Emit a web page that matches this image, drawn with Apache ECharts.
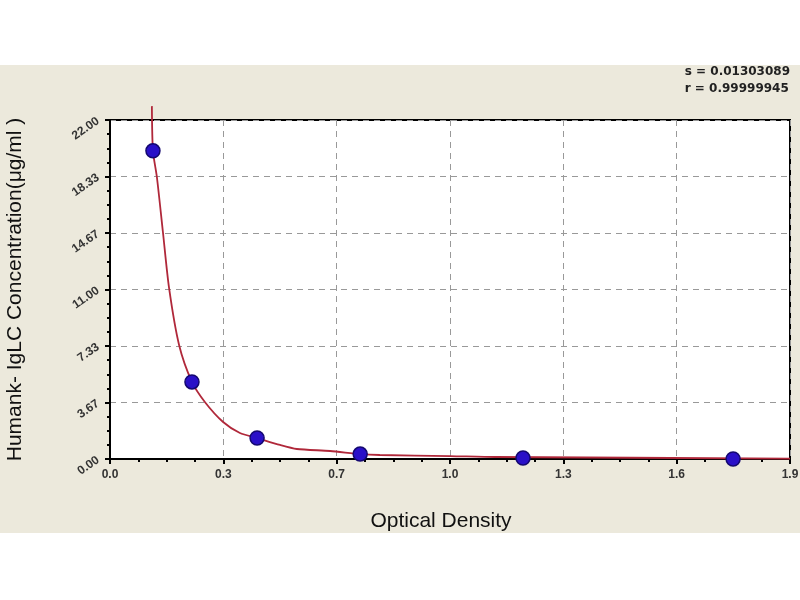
<!DOCTYPE html>
<html>
<head>
<meta charset="utf-8">
<title>echarts</title>
<script src="https://cdn.jsdelivr.net/npm/echarts@6/dist/echarts.min.js"></script>
<style>
  html, body { margin: 0; padding: 0; width: 100%; height: 100%; overflow: hidden; background: #fff; }
  #main { width: 800px; height: 600px; }
</style>
</head>
<body>
<div id="main"></div>
<script>
// standard points (optical density vs concentration)
var odValues = [0.120, 0.229, 0.411, 0.699, 1.154, 1.741];
var concValues = [20.0, 5.0, 1.36, 0.32, 0.06, 0.0];

// fitted curve
var curveOd = [0.117, 0.120, 0.131, 0.148, 0.165, 0.193, 0.229, 0.265, 0.316, 0.363, 0.411, 0.475, 0.522, 0.615, 0.699, 0.754, 0.950, 1.076, 1.9];
var curveConc = [22.9, 20.0, 18.3, 14.7, 11.1, 7.4, 5.0, 3.7, 2.4, 1.69, 1.36, 0.91, 0.65, 0.52, 0.32, 0.26, 0.19, 0.13, 0.03];

var xTickLabels = ['0.0', '0.3', '0.7', '1.0', '1.3', '1.6', '1.9'];
var yTickLabels = ['0.00', '3.67', '7.33', '11.00', '14.67', '18.33', '22.00'];

var statLines = ['s = 0.01303089', 'r = 0.99999945'];

var points = odValues.map(function (v, i) { return [v, concValues[i]]; });
var curve = curveOd.map(function (v, i) { return [v, curveConc[i]]; });

var myChart = echarts.init(document.getElementById('main'));
myChart.setOption({
  animation: false,
  backgroundColor: '#fff',
  graphic: [
    { type: 'rect', z: -10, shape: { x: 0, y: 65, width: 800, height: 468 }, style: { fill: '#ece9dc' } },
    {
      type: 'text', right: 10, top: 63,
      style: { text: statLines.join('\n'), align: 'right', fill: '#222', font: 'bold 12px "DejaVu Sans"', lineHeight: 17 }
    }
  ],
  grid: {
    left: 110, top: 120, right: 10, bottom: 141,
    outerBoundsMode: 'none', containLabel: false,
    show: true, backgroundColor: '#fff', borderColor: '#000', borderWidth: 2
  },
  xAxis: {
    type: 'value', min: 0, max: 1.9, interval: 1.9 / 6,
    name: 'Optical Density', nameLocation: 'middle', nameGap: 52,
    nameTextStyle: { color: '#111', fontSize: 21, fontFamily: 'Arial', padding: [0, 18, 0, 0] },
    axisLine: { lineStyle: { color: '#000', width: 2 } },
    axisTick: { length: 5, lineStyle: { color: '#000', width: 2 } },
    minorTick: { show: true, splitNumber: 4, length: 3, lineStyle: { color: '#000', width: 2 } },
    splitLine: { show: true, lineStyle: { color: '#999', type: [6, 5], width: 1 } },
    axisLabel: {
      color: '#333', fontSize: 12, fontWeight: 'bold', margin: 10,
      formatter: function (v) { return xTickLabels[Math.round(v / (1.9 / 6))]; }
    }
  },
  yAxis: {
    type: 'value', min: 0, max: 22, interval: 22 / 6,
    name: 'Humank- IgLC Concentration(μg/ml )', nameLocation: 'middle', nameGap: 84,
    nameTextStyle: { color: '#111', fontSize: 21, fontFamily: 'Arial' },
    axisLine: { show: true, lineStyle: { color: '#000', width: 2 } },
    axisTick: { show: true, length: 5, lineStyle: { color: '#000', width: 2 } },
    minorTick: { show: true, splitNumber: 4, length: 3, lineStyle: { color: '#000', width: 2 } },
    splitLine: { show: true, lineStyle: { color: '#999', type: [6, 5], width: 1 } },
    axisLabel: {
      color: '#333', fontSize: 12, fontWeight: 'bold', rotate: 35, margin: 12,
      formatter: function (v) { return yTickLabels[Math.round(v / (22 / 6))]; }
    }
  },
  series: [
    {
      type: 'line', data: curve, smooth: 0.25, showSymbol: false, clip: false,
      lineStyle: { color: '#b0283a', width: 1.8 }, z: 3
    },
    {
      type: 'scatter', data: points, symbolSize: 14,
      itemStyle: { color: '#2a10c8', borderColor: '#140870', borderWidth: 1.5, opacity: 1 }, z: 4
    }
  ]
});
</script>
</body>
</html>
